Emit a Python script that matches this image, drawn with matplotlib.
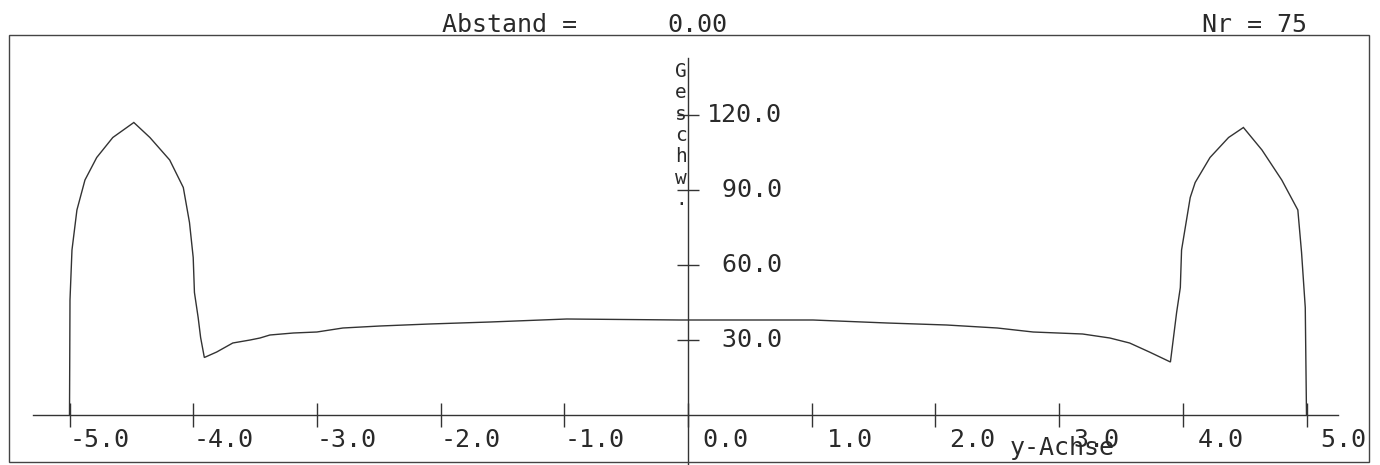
import matplotlib
matplotlib.use("Agg")
import matplotlib.pyplot as plt
from matplotlib.patches import Rectangle

# ---- data ----
y_pos = [-5.00, -4.996, -4.98, -4.94, -4.875, -4.78, -4.65, -4.48, -4.35, -4.19,
         -4.08, -4.03, -4.00, -3.99, -3.96, -3.94, -3.91, -3.81, -3.68, -3.54,
         -3.46, -3.38, -3.19, -3.00, -2.79, -2.49, -2.09, -1.60, -0.98, -0.06,
         1.01, 1.61, 2.09, 2.50, 2.79, 3.19, 3.41, 3.57, 3.73, 3.90,
         3.95, 3.98, 3.99, 4.03, 4.06, 4.10, 4.22, 4.37, 4.49, 4.64,
         4.80, 4.93, 4.96, 4.99, 5.00]
speed = [0.0, 46, 66, 82, 94, 103, 111, 117, 111, 102,
         91, 77, 63, 49, 39, 31, 23, 25.2, 28.8, 30.0,
         30.8, 32.0, 32.8, 33.2, 34.8, 35.6, 36.4, 37.2, 38.4, 38.0,
         38.0, 36.8, 36.0, 34.8, 33.2, 32.4, 30.8, 28.8, 25.2, 21.2,
         41, 51, 66, 78, 87, 93, 103, 111, 115, 106,
         94, 82, 65, 43, 0.0]

x_ticks = [-5, -4, -3, -2, -1, 0, 1, 2, 3, 4, 5]
x_tick_labels = ["-5.0", "-4.0", "-3.0", "-2.0", "-1.0", " 0.0", " 1.0", " 2.0", " 3.0", " 4.0", " 5.0"]
y_ticks = [30, 60, 90, 120]
y_tick_labels = [" 30.0", " 60.0", " 90.0", "120.0"]
ylabel_chars = ["G", "e", "s", "c", "h", "w", "."]
title_left = "Abstand ="
title_value = "0.00"
title_right = "Nr = 75"
xlabel = "y-Achse"

# ---- style ----
W, H, DPI = 13.8, 4.65, 100
ink = "#2a2a2a"
mono = ["DejaVu Sans Mono"]

fig = plt.figure(figsize=(W, H), dpi=DPI)
fig.patch.set_facecolor("white")
ax = fig.add_axes([0, 0, 1, 1])
ax.set_facecolor("none")

# pixel mapping: x0 at 688 px, 123.7 px/unit ; y0 at 415 px from top, 2.5 px/unit
px_x = 123.7
px_y = 2.5
ax.set_xlim((0 - 688) / px_x, (1380 - 688) / px_x)
ax.set_ylim(-(465 - 415) / px_y, 415 / px_y)

ax.plot(y_pos, speed, color="#333333", lw=1.0, solid_joinstyle="miter")

# axes
ax.spines["top"].set_visible(False)
ax.spines["left"].set_visible(False)
ax.spines["bottom"].set_position(("data", 0))
ax.spines["bottom"].set_bounds((33 - 688) / px_x, (1338 - 688) / px_x)
ax.spines["right"].set_position(("data", 0))
ax.spines["right"].set_bounds(-(465 - 415) / px_y, (415 - 58) / px_y)
for s in ("bottom", "right"):
    ax.spines[s].set_color("#333333")
    ax.spines[s].set_linewidth(1.0)

ax.yaxis.set_ticks_position("right")
ax.set_xticks(x_ticks, labels=x_tick_labels)
ax.set_yticks(y_ticks, labels=y_tick_labels)
ax.tick_params(axis="x", direction="inout", length=24 * 72 / DPI, width=1.0,
               color="#333333", pad=1, labelsize=18, labelcolor=ink)
ax.tick_params(axis="y", direction="inout", length=22 * 72 / DPI, width=1.0,
               color="#333333", pad=6, labelsize=18, labelcolor=ink)
for lbl in ax.get_xticklabels():
    lbl.set_fontfamily(mono)
    lbl.set_horizontalalignment("left")
for lbl in ax.get_yticklabels():
    lbl.set_fontfamily(mono)
    lbl.set_horizontalalignment("left")
    lbl.set_verticalalignment("center")

# frame
fig.patches.append(Rectangle((9 / 1380, 1 - 462 / 465), (1369 - 9) / 1380, (462 - 35) / 465,
                             transform=fig.transFigure, fill=False,
                             edgecolor="#444444", lw=1.0))

# texts (figure pixel coordinates, top-left origin)
def ftxt(xp, yp, s, size, **kw):
    fig.text(xp / 1380, 1 - yp / 465, s, fontsize=size, family=mono, color=ink,
             ha="left", va="baseline", **kw)

ftxt(442, 32, title_left, 18)
ftxt(667, 32, title_value, 18)
ftxt(1202, 32, title_right, 18)
ftxt(1010, 455, xlabel, 18)
for i, ch in enumerate(ylabel_chars):
    ftxt(675, 77 + 21.3 * i, ch, 14)

fig.savefig("out.png", dpi=DPI, facecolor="white")
